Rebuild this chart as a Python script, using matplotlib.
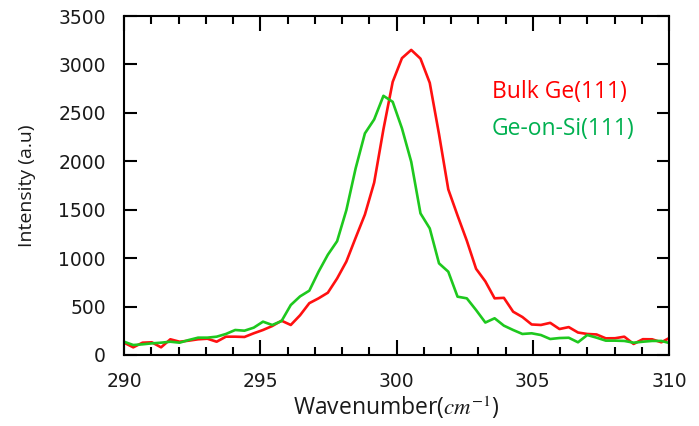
#!/usr/bin/env python3
"""Raman spectra of bulk Ge(111) vs Ge-on-Si(111)."""

import matplotlib
matplotlib.use("Agg")
import matplotlib.pyplot as plt
from matplotlib.ticker import MultipleLocator


WAVENUMBER = [
    290.00, 290.34, 290.68, 291.02, 291.36, 291.70, 292.04, 292.38, 292.72, 293.06,
    293.40, 293.74, 294.08, 294.42, 294.76, 295.10, 295.44, 295.78, 296.12, 296.46,
    296.80, 297.14, 297.48, 297.82, 298.16, 298.50, 298.84, 299.18, 299.52, 299.86,
    300.20, 300.54, 300.88, 301.22, 301.56, 301.90, 302.24, 302.58, 302.92, 303.26,
    303.60, 303.94, 304.28, 304.62, 304.96, 305.30, 305.64, 305.98, 306.32, 306.66,
    307.00, 307.34, 307.68, 308.02, 308.36, 308.70, 309.04, 309.38, 309.72, 310.06,
]
BULK_GE = [
    127, 79, 127, 131, 79, 162, 137, 148, 162, 168,
    137, 189, 189, 186, 224, 258, 299, 354, 310, 410,
    535, 585, 643, 790, 965, 1210, 1450, 1780, 2330, 2820,
    3065, 3150, 3060, 2810, 2280, 1710, 1440, 1180, 890, 760,
    585, 590, 447, 392, 315, 310, 332, 268, 288, 232,
    217, 212, 172, 173, 189, 114, 163, 162, 131, 183,
]
GE_ON_SI = [
    137, 103, 110, 120, 127, 137, 127, 155, 179, 179,
    189, 217, 258, 251, 282, 344, 310, 350, 516, 605,
    664, 860, 1035, 1175, 1496, 1927, 2288, 2432, 2676, 2614,
    2340, 1995, 1462, 1307, 946, 860, 602, 585, 464, 335,
    379, 303, 258, 217, 224, 206, 165, 175, 178, 131,
    206, 179, 148, 148, 145, 127, 137, 145, 145, 120,
]

plt.rcParams["mathtext.fontset"] = "stix"

fig = plt.figure(figsize=(6.99, 4.26), dpi=100)
ax = fig.add_axes([0.1774, 0.1667, 0.7797, 0.7957])

ax.plot(WAVENUMBER, BULK_GE, color="#ff1010", lw=1.9)
ax.plot(WAVENUMBER, GE_ON_SI, color="#1ec81e", lw=1.9)

ax.set_xlim(290, 310)
ax.set_ylim(0, 3500)
ax.xaxis.set_major_locator(MultipleLocator(5))
ax.xaxis.set_minor_locator(MultipleLocator(1))
ax.yaxis.set_major_locator(MultipleLocator(500))

for spine in ax.spines.values():
    spine.set_linewidth(1.5)
ax.tick_params(axis="x", which="major", direction="in", top=True,
               length=11, width=1.5, pad=12, labelsize=13.5)
ax.tick_params(axis="x", which="minor", direction="in", top=True,
               length=6, width=1.5)
ax.tick_params(axis="y", which="major", direction="in", right=True,
               length=9, width=1.5, pad=13, labelsize=13.5)
for label in ax.get_xticklabels() + ax.get_yticklabels():
    label.set_fontfamily("DejaVu Sans")
    label.set_color("#1a1a1a")

ax.set_xlabel(r"Wavenumber($cm^{-1}$)", fontsize=16.5, family="Open Sans",
              color="#1a1a1a", labelpad=2)
ax.set_ylabel("Intensity (a.u)", fontsize=14, family="Open Sans",
              color="#1a1a1a", labelpad=16)

ax.text(303.49, 2714, "Bulk Ge(111)", color="#ff0000", fontsize=16.5,
        family="Open Sans", va="center", ha="left")
ax.text(303.49, 2332, "Ge-on-Si(111)", color="#00b050", fontsize=16.5,
        family="Open Sans", va="center", ha="left")

fig.savefig("out.png", dpi=100, facecolor="white")
